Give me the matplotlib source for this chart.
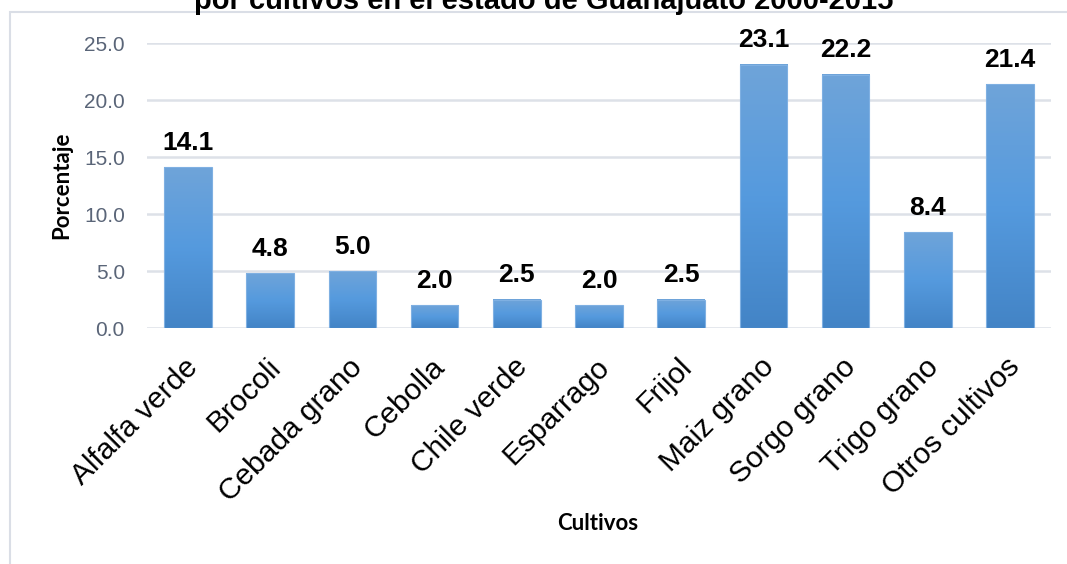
import numpy as np
import matplotlib
matplotlib.use('Agg')
import matplotlib.pyplot as plt
from matplotlib.patches import Rectangle
from matplotlib.colors import LinearSegmentedColormap
from matplotlib.transforms import ScaledTranslation

# Datos
cultivos = ['Alfalfa verde', 'Brocoli', 'Cebada grano', 'Cebolla', 'Chile verde',
            'Esparrago', 'Frijol', 'Maiz grano', 'Sorgo grano', 'Trigo grano',
            'Otros cultivos']
porcentaje = [14.1, 4.8, 5.0, 2.0, 2.5, 2.0, 2.5, 23.1, 22.2, 8.4, 21.4]
yticks = [0, 5, 10, 15, 20, 25]
titulo = 'por cultivos en el estado de Guanajuato 2000-2015'

plt.rcParams['font.family'] = ['Liberation Sans', 'DejaVu Sans']

fig = plt.figure(figsize=(10.67, 5.64), dpi=100)
ax = fig.add_axes([0.1378, 0.4184, 0.8472, 0.5053])

x = np.arange(len(cultivos))
ancho = 0.58
bars = ax.bar(x, porcentaje, width=ancho, color='none', edgecolor='#7fb0e2',
              linewidth=0.8, zorder=3)

# degradado vertical en cada barra
cmap = LinearSegmentedColormap.from_list('azul', ['#4384c6', '#559ade', '#6fa4d9'])
grad = np.linspace(0, 1, 256).reshape(-1, 1)
for b in bars:
    x0, h = b.get_x(), b.get_height()
    ax.imshow(grad, cmap=cmap, origin='lower', aspect='auto',
              extent=(x0, x0 + ancho, 0, h), zorder=2)

for xi, v in zip(x, porcentaje):
    ax.annotate(f'{v:.1f}', (xi, v), xytext=(0, 9), textcoords='offset points',
                ha='center', va='bottom', fontsize=19, fontweight='bold', color='black')

ax.set_xlim(-0.5, len(cultivos) - 0.5)
ax.set_ylim(0, 25)
ax.set_yticks(yticks)
ax.set_yticklabels([f'{t:.1f}' for t in yticks])
ax.yaxis.grid(True, color='#dde1e8', linewidth=1.8, zorder=0)
ax.set_axisbelow(True)
for s in ax.spines.values():
    s.set_visible(False)
ax.tick_params(axis='y', length=0, pad=16, labelsize=15, labelcolor='#5a6578')
ax.tick_params(axis='x', length=0, pad=25)
ax.set_xticks(x)
ax.set_xticklabels(cultivos, rotation=45, ha='right', va='center',
                   rotation_mode='anchor', fontsize=21.5, color='black')
desplaza = ScaledTranslation(6 / 100, 0, fig.dpi_scale_trans)
for lbl in ax.get_xticklabels():
    lbl.set_transform(lbl.get_transform() + desplaza)

fig.text(62 / 1067, 1 - 185 / 564, 'Porcentaje', rotation=90, ha='center', va='center',
         fontsize=16, fontweight='bold', family=['Lato', 'DejaVu Sans'])
fig.text(598 / 1067, 1 - 523 / 564, 'Cultivos', ha='center', va='center',
         fontsize=16, fontweight='bold', family=['Lato', 'DejaVu Sans'])

# titulo cortado arriba
fig.text(544 / 1067, 1 - 9 / 564, titulo, ha='center', va='baseline',
         fontsize=21, fontweight='bold', color='black')

# marco del grafico
y_top = 1 - 12 / 564
x_left = 10 / 1067
fig.add_artist(Rectangle((x_left, -0.1), 1.2, y_top + 0.1, transform=fig.transFigure,
                         fill=False, edgecolor='#dadee6', linewidth=1.5))

fig.savefig('out.png', dpi=100)
